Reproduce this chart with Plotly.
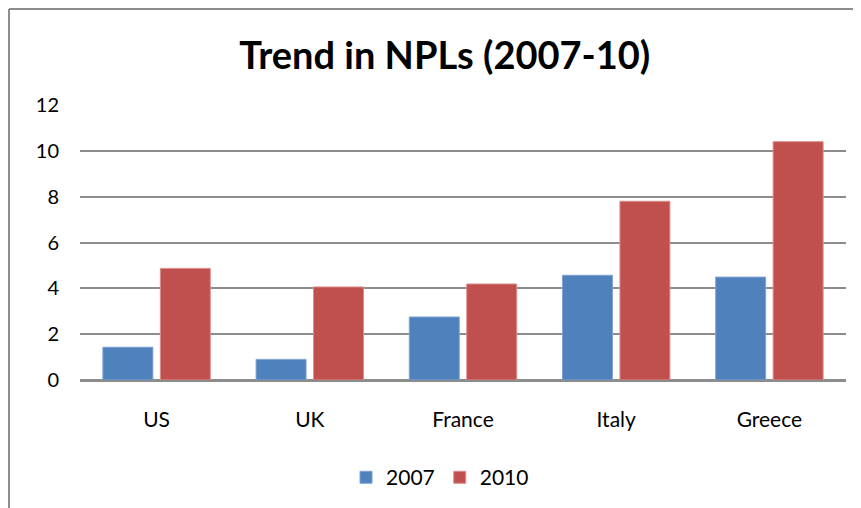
import plotly.graph_objects as go

countries = ["US", "UK", "France", "Italy", "Greece"]
npl_2007 = [1.43, 0.90, 2.75, 4.57, 4.49]
npl_2010 = [4.87, 4.06, 4.19, 7.80, 10.40]
y_ticks = [0, 2, 4, 6, 8, 10, 12]

COLORS = {"2007": "#4F81BD", "2010": "#C0504D", "grid": "#8C8C8C", "text": "#000000"}
FONT = "Lato, 'Open Sans', sans-serif"

fig = go.Figure()
fig.add_trace(
    go.Bar(
        x=countries,
        y=npl_2007,
        name="2007",
        marker={"color": COLORS["2007"], "line": {"color": "#7FA3D3", "width": 1}},
    )
)
fig.add_trace(
    go.Bar(
        x=countries,
        y=npl_2010,
        name="2010",
        marker={"color": COLORS["2010"], "line": {"color": "#DC8E8C", "width": 1}},
    )
)

# page body adds an 8px offset, so the figure is sized/margined to compensate
W, H = 853, 500
L, R, T, B = 72, 15, 97, 128
pw, ph = W - L - R, H - T - B


def px_to_paper(px, py):
    return (px - L) / pw, (H - B - py) / ph


# outer chart frame (top and left edges visible in the crop)
x0, y0 = px_to_paper(1, 1)
x1, _ = px_to_paper(W, 1)
_, y1 = px_to_paper(1, H)
fig.add_shape(type="line", xref="paper", yref="paper", x0=x0, y0=y0, x1=x1, y1=y0,
              line={"color": "#8C8C8C", "width": 2})
fig.add_shape(type="line", xref="paper", yref="paper", x0=x0, y0=y0, x1=x0, y1=y1,
              line={"color": "#8C8C8C", "width": 2})

fig.update_layout(
    width=W,
    height=H,
    margin={"l": L, "r": R, "t": T, "b": B, "autoexpand": False},
    barmode="group",
    bargap=0.25,
    bargroupgap=0.13,
    plot_bgcolor="white",
    paper_bgcolor="white",
    font={"family": FONT, "color": COLORS["text"], "size": 20},
    title={
        "text": "<b>Trend in NPLs (2007-10)</b>",
        "x": 0.512,
        "xanchor": "center",
        "y": 0.904,
        "yanchor": "middle",
        "font": {"family": FONT, "size": 38},
    },
    legend={
        "orientation": "h",
        "x": 0.47,
        "xanchor": "center",
        "y": -0.355,
        "yanchor": "middle",
        "font": {"size": 21},
        "itemwidth": 30,
        "traceorder": "normal",
    },
    showlegend=True,
)
fig.update_xaxes(
    showline=True,
    linecolor=COLORS["grid"],
    linewidth=2,
    ticks="",
    tickfont={"size": 21},
    ticklabelstandoff=20,
    automargin=False,
)
fig.update_yaxes(
    range=[0, 12],
    tickvals=y_ticks,
    showgrid=True,
    gridcolor=COLORS["grid"],
    gridwidth=2,
    zeroline=True,
    zerolinecolor=COLORS["grid"],
    zerolinewidth=2,
    ticks="",
    tickfont={"size": 20},
    ticklabelstandoff=20,
    automargin=False,
)

fig.write_html("out.html")
